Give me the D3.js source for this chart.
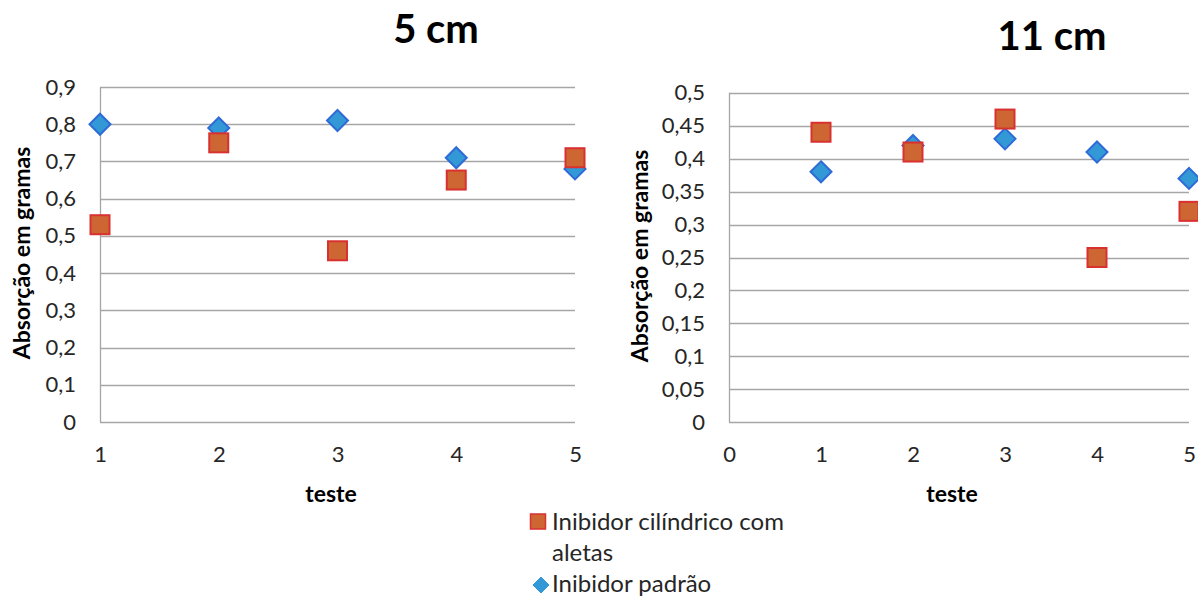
<!DOCTYPE html>
<html>
<head>
<meta charset="utf-8">
<script src="https://cdn.jsdelivr.net/npm/d3@7/dist/d3.min.js"></script>
<style>
  html, body { margin: 0; padding: 0; background: #fff; }
  svg { display: block; font-family: Lato, "Open Sans", sans-serif; }
</style>
</head>
<body>
<svg id="chart" width="1198" height="596"></svg>
<script>
// Test numbers and absorption (g) for each inhibitor
const tests = [1, 2, 3, 4, 5];
const padrao5 = [0.80, 0.79, 0.81, 0.71, 0.68];
const aletas5 = [0.53, 0.75, 0.46, 0.65, 0.71];
const padrao11 = [0.38, 0.42, 0.43, 0.41, 0.37];
const aletas11 = [0.44, 0.41, 0.46, 0.25, 0.32];

// Axis ticks
const yTicks5 = [0, 0.1, 0.2, 0.3, 0.4, 0.5, 0.6, 0.7, 0.8, 0.9];
const yTicks11 = [0, 0.05, 0.1, 0.15, 0.2, 0.25, 0.3, 0.35, 0.4, 0.45, 0.5];
const xTicks5 = [1, 2, 3, 4, 5];
const xTicks11 = [0, 1, 2, 3, 4, 5];

const titles = ["5 cm", "11 cm"];
const seriesNames = ["Inibidor cilíndrico com", "aletas", "Inibidor padrão"];
const xTitle = "teste";
const yTitle = "Absorção em gramas";

const SQ_FILL = "#CD6632", SQ_STROKE = "#D93030";
const DI_FILL = "#3398D6", DI_STROKE = "#2F6BD6";
const GRID = "#A6A6A6";
const TXT = "#262626";

const svg = d3.select("#chart");
const fmt = v => String(v).replace(".", ",");

function panel(cfg) {
  const g = svg.append("g");
  const x = d3.scaleLinear().domain(cfg.xDomain).range([cfg.left, cfg.right]);
  const y = d3.scaleLinear().domain(cfg.yDomain).range([cfg.bottom, cfg.top]);

  // horizontal gridlines
  g.selectAll(".grid").data(cfg.yTicks).join("line")
    .attr("x1", cfg.left).attr("x2", cfg.right)
    .attr("y1", d => Math.round(y(d)) + 0.5).attr("y2", d => Math.round(y(d)) + 0.5)
    .attr("stroke", GRID).attr("stroke-width", 1.3);

  // vertical axis line
  g.append("line")
    .attr("x1", Math.round(cfg.left) + 0.5).attr("x2", Math.round(cfg.left) + 0.5)
    .attr("y1", y(cfg.yDomain[1])).attr("y2", y(cfg.yDomain[0]))
    .attr("stroke", GRID).attr("stroke-width", 1.3);

  // y tick labels
  const yAxis = d3.axisLeft(y).tickValues(cfg.yTicks).tickFormat(fmt).tickSize(0).tickPadding(24);
  const ya = g.append("g").attr("transform", `translate(${cfg.left},0)`).call(yAxis);
  ya.select(".domain").remove();
  ya.selectAll("text").attr("font-size", 22).attr("fill", TXT).attr("font-family", "Lato, sans-serif");

  // x tick labels
  const xAxis = d3.axisBottom(x).tickValues(cfg.xTicks).tickFormat(fmt).tickSize(0).tickPadding(24);
  const xa = g.append("g").attr("transform", `translate(0,${cfg.bottom})`).call(xAxis);
  xa.select(".domain").remove();
  xa.selectAll("text").attr("font-size", 22).attr("fill", TXT).attr("font-family", "Lato, sans-serif");

  // diamonds (Inibidor padrão)
  const dsz = 10.5;
  g.selectAll(".dia").data(tests.map((t, i) => [t, cfg.padrao[i]])).join("path")
    .attr("d", d => `M${x(d[0])},${y(d[1]) - dsz}L${x(d[0]) + dsz},${y(d[1])}L${x(d[0])},${y(d[1]) + dsz}L${x(d[0]) - dsz},${y(d[1])}Z`)
    .attr("fill", DI_FILL).attr("stroke", DI_STROKE).attr("stroke-width", 2);

  // squares (Inibidor cilíndrico com aletas)
  const ssz = 9.5;
  g.selectAll(".sq").data(tests.map((t, i) => [t, cfg.aletas[i]])).join("rect")
    .attr("x", d => x(d[0]) - ssz).attr("y", d => y(d[1]) - ssz)
    .attr("width", ssz * 2).attr("height", ssz * 2)
    .attr("fill", SQ_FILL).attr("stroke", SQ_STROKE).attr("stroke-width", 2);

  // titles
  g.append("text").text(cfg.title)
    .attr("x", cfg.titleX).attr("y", cfg.titleY).attr("text-anchor", "middle")
    .attr("font-size", 40).attr("font-weight", "bold").attr("fill", "#000");
  g.append("text").text(xTitle)
    .attr("x", cfg.xTitleX).attr("y", 502).attr("text-anchor", "middle")
    .attr("font-size", 23).attr("font-weight", "bold").attr("fill", "#000");
  g.append("text").text(yTitle)
    .attr("transform", `translate(${cfg.yTitleX},${cfg.yTitleY}) rotate(-90)`)
    .attr("text-anchor", "middle")
    .attr("font-size", 23).attr("font-weight", "bold").attr("fill", "#000");
}

panel({
  xDomain: [1, 5], yDomain: [0, 0.9], left: 100, right: 575, top: 87, bottom: 422,
  yTicks: yTicks5, xTicks: xTicks5, padrao: padrao5, aletas: aletas5,
  title: titles[0], titleX: 436, titleY: 43, xTitleX: 331, yTitleX: 30, yTitleY: 253
});
panel({
  xDomain: [0, 5], yDomain: [0, 0.5], left: 729, right: 1189, top: 92.7, bottom: 422.3,
  yTicks: yTicks11, xTicks: xTicks11, padrao: padrao11, aletas: aletas11,
  title: titles[1], titleX: 1052, titleY: 50, xTitleX: 952, yTitleX: 648, yTitleY: 256
});

// legend
const lg = svg.append("g");
lg.append("rect").attr("x", 530.5).attr("y", 514).attr("width", 15).attr("height", 15)
  .attr("fill", SQ_FILL).attr("stroke", SQ_STROKE).attr("stroke-width", 1.5);
lg.append("path").attr("d", "M541,577L549,585L541,593L533,585Z")
  .attr("fill", DI_FILL).attr("stroke", DI_FILL).attr("stroke-width", 1);
lg.selectAll("text").data([[seriesNames[0], 530], [seriesNames[1], 561], [seriesNames[2], 592]]).join("text")
  .text(d => d[0]).attr("x", 552).attr("y", d => d[1])
  .attr("font-size", 24).attr("fill", TXT);
</script>
</body>
</html>
